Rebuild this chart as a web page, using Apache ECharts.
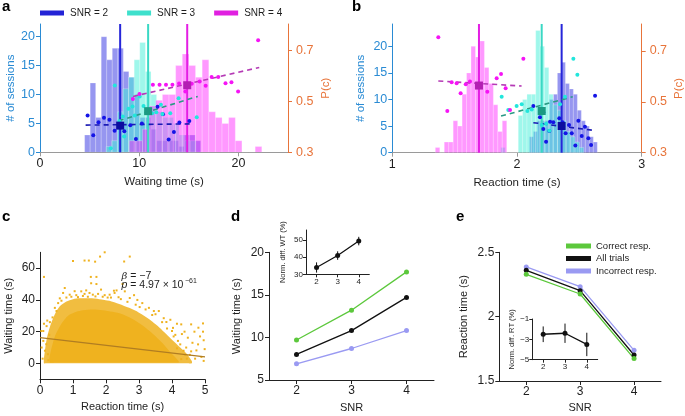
<!DOCTYPE html>
<html><head><meta charset="utf-8">
<script src="https://cdn.jsdelivr.net/npm/echarts@6/dist/echarts.min.js"></script>
<style>html,body{margin:0;padding:0;background:#fff}#c{width:685px;height:416px}</style>
</head><body><div id="c"></div>
<script>
// ================= DATA =================
// Panel a: waiting-time histograms (bin start, bin width, counts)
const aHist2 = {start: 4.5,  width: 0.557, counts: [3,12,6,20,16,18,18,14,13,10,6,6,4,2,2,2,2,1,3,3,2]};
const aHist3 = {start: 6.67, width: 0.565, counts: [1,2,7,11,13,16,19,14,10,7,6,6,5,3,2,2]};
const aHist4 = {start: 9.0,  width: 0.668, counts: [2,2,4,8,9,10,10,15,17,15,13,16,7,6,5,6,2,0,0,1]};
const aMeans = [8.08, 10.9, 14.84];
// Panel a: P(c) per session
const aDots2 = [[4.8,0.445],[5.37,0.367],[5.9,0.418],[6.45,0.436],[7.0,0.428],[7.52,0.385],[8.5,0.383],[9.1,0.406],[9.67,0.352],[10.27,0.413],[11.85,0.479],[12.4,0.45],[12.97,0.35],[13.5,0.38],[14.05,0.417],[15.05,0.423]];
const aDots3 = [[7.54,0.563],[7.14,0.316],[8.0,0.422],[8.48,0.362],[8.35,0.441],[8.92,0.471],[9.33,0.48],[9.55,0.445],[10.05,0.52],[10.44,0.482],[11.3,0.454],[11.72,0.458],[12.19,0.487],[12.34,0.451],[13.13,0.454],[13.97,0.513],[15.8,0.438]];
const aDots4 = [[9.36,0.51],[10.03,0.529],[11.38,0.566],[12.05,0.566],[12.7,0.566],[13.35,0.566],[14.02,0.571],[14.65,0.539],[15.3,0.57],[16.1,0.579],[16.7,0.562],[17.3,0.596],[17.97,0.596],[18.7,0.572],[19.3,0.576],[19.97,0.539],[21.99,0.741]];
const aFit2 = [[4.6,0.407],[15.4,0.412]];
const aFit3 = [[7.93,0.424],[15.9,0.52]];
const aFit4 = [[9.38,0.52],[22.1,0.634]];
const aCenters = [[8.08,0.405],[10.9,0.462],[14.84,0.564]];

// Panel b: reaction-time histograms
const bHist2 = {start: 2.10,  width: 0.032,  counts: [3,4,6,6,6,10,11,15,17,13,12,11,8,6,5,3,2]};
const bHist3 = {start: 1.87,  width: 0.035,  counts: [1,0,0,0,7,10,11,11,23,20,16,11,9,8,6,4,3,2,1]};
const bHist4 = {start: 1.345, width: 0.0358, counts: [1,0,2,2,6,5,11,15,20,18,21,16,13,9,4,6]};
const bMeans = [2.358, 2.198, 1.695];
const bDots2 = [[2.131,0.484],[2.184,0.439],[2.211,0.459],[2.211,0.393],[2.233,0.343],[2.259,0.385],[2.265,0.422],[2.291,0.42],[2.339,0.435],[2.366,0.42],[2.39,0.376],[2.417,0.409],[2.439,0.376],[2.468,0.328],[2.492,0.426],[2.519,0.366],[2.545,0.402],[2.572,0.357],[2.594,0.33],[2.626,0.524]];
const bDots3 = [[1.877,0.52],[1.93,0.468],[1.997,0.484],[2.038,0.49],[2.083,0.464],[2.118,0.47],[2.198,0.409],[2.233,0.414],[2.259,0.386],[2.345,0.49],[2.385,0.52],[2.452,0.669],[2.484,0.606]];
const bDots4 = [[1.369,0.754],[1.441,0.464],[1.476,0.577],[1.516,0.573],[1.548,0.534],[1.589,0.569],[1.623,0.58],[1.762,0.54],[1.837,0.593],[1.872,0.609],[1.909,0.553],[1.944,0.468],[2.051,0.669]];
const bFit2 = [[2.131,0.418],[2.626,0.387]];
const bFit3 = [[1.872,0.444],[2.447,0.52]];
const bFit4 = [[1.369,0.582],[2.037,0.562]];
const bCenters = [[2.358,0.405],[2.198,0.464],[1.695,0.564]];

// Panel c: trial cloud (outline of the dense and speckled zones) + sparse trials + fit
const cMedX   = [0.12,0.2,0.3,0.45,0.6,0.8,1.0,1.2,1.5,1.8,2.1,2.4,2.7,3.0,3.3,3.6,3.9,4.2,4.45,4.6];
const cMedTop = [3,15,23,31,36,39,40.5,41,41,40.5,39.5,37.5,35,32,28,23,17,11,6,1.5];
const cMedBot = [0.1,0.1,0.1,0.1,0.1,0.1,0.1,0.1,0.1,0.1,0.1,0.1,0.1,0.1,0.1,0.1,0.1,0.1,0.1,0.1];
const cDenseX   = [0.3,0.45,0.65,0.85,1.1,1.3,1.6,1.9,2.2,2.5,2.8,3.1,3.4,3.7,3.95,4.2];
const cDenseTop = [5,17,25,30,32.5,33.5,34,33.5,32.5,31,28,24,19,13,7,1.5];
const cDenseBot = [0.6,0.6,0.6,0.6,0.6,0.6,0.6,0.6,0.6,0.6,0.6,0.6,0.6,0.6,0.6,0.6];
const cSparse = [
 [0.12,54.5],[1.0,64.5],[1.35,64.8],[1.48,64.8],[1.67,64.1],[1.82,67.3],[1.96,70],[2.55,64.2],[2.72,67.3],[1.54,54.5],[1.71,54.5],[1.71,50],[1.55,50.5],[2.5,50],[2.32,46],
 [0.75,47.5],[0.7,44.4],[0.9,43.3],[1.1,43],[1.25,45.4],[1.35,43.8],[1.5,44.4],[1.6,43.3],[1.76,43.8],[1.96,43],[2.11,43.3],[2.26,44.4],[2.38,41.7],[2.57,45.4],[2.72,41.2],[2.24,45.8],[0.6,41],[0.8,41.5],[1.05,45.5],[1.4,46],[1.85,46.5],[2.05,41.5],[2.95,40],[3.1,38],[2.85,43],[0.55,38],[0.45,35],[3.3,35],[3.5,31],[3.6,33],
 [0.95,42],[1.15,41.8],[1.3,42.5],[1.45,42],[1.68,42.2],[1.9,42],[2.15,41.5],[2.45,40.5],[2.65,38.8],[2.9,37],[3.2,34],[3.4,30.5],[3.7,26],[3.85,22],[4.05,17],[4.25,12],[4.35,8],[0.65,39.5],[0.5,33],[0.38,29],[3.02,35.5],[3.45,33],[3.75,28.5],[4.0,20.5],[4.15,9.5],[4.45,3],
 [4.38,20],[4.58,24.6],[4.68,20],[4.48,16.2],[4.79,12],[4.94,25.2],[4.94,20],[4.96,14.6],[4.99,9],[4.89,4.1],[4.96,1.6],[4.28,24.6],[4.18,14.2],[4.43,10],[4.58,7.6],[4.74,8.2],[4.28,2.7],[4.54,5.4],[3.83,26.1],[4.03,22.4],[4.1,18],[4.3,18.5],[4.62,13],[4.85,17],[4.7,3],[4.4,5.5],[3.95,27.5],[4.15,25],[4.8,22.5],
 [0.04,20.4],[0.1,14.2],[0.2,23.5],[0.19,12.1],[0.24,5.8],[0.34,1.7],[0.1,20.4],[0.15,8],[0.08,3],[0.28,18],[0.22,27],[0.3,26],[0.05,10],[0.25,2],[0.12,25]
];
const cFit = [[0,16.2],[5,4.1]];

// Panels d, e
const snr = [2,3,4];
const wtCorrect   = [9.7, 13.2, 17.7];
const wtAll       = [8.0, 10.8, 14.7];
const wtIncorrect = [6.9, 8.7, 10.8];
const wtDiff    = [34, 41, 49.5];
const wtDiffErr = [3, 2.5, 2.5];
const rtCorrect   = [2.329, 2.176, 1.674];
const rtAll       = [2.36, 2.202, 1.702];
const rtIncorrect = [2.386, 2.233, 1.738];
const rtDiff    = [-2.5, -2.4, -3.5];
const rtDiffErr = [0.77, 0.95, 1.15];

// ================= STYLE / LAYOUT =================
const FONT = "'Liberation Sans', Arial, Helvetica, sans-serif";
const LBLUE = '#2a8bd4', ORANGE = '#e8743a', AXGRAY = '#9a9a9a', TXT = '#1e1e1e';
const C2 = {bar:'rgba(45,45,225,0.5)',  line:'#2626d9', dot:'#1414e6', sq:'#0c0ca0', dash:'#1a1ab4', leg:'#2323d6'};
const C3 = {bar:'rgba(64,240,215,0.5)', line:'#3ad8c4', dot:'#22e6dc', sq:'#1b9a82', dash:'#2a9a84', leg:'#3ee0cc'};
const C4 = {bar:'rgba(255,30,255,0.46)',line:'#e41ee4', dot:'#f514f5', sq:'#b31fb3', dash:'#b53ab5', leg:'#e020e0'};
const GREEN = '#5cc83c', LAV = '#9a9af2', BLK = '#111111';
const CLOUD = '#efb21f';
const A_LMAX = 22.2, A_RMAX = 0.805, B_LMAX = 24.2, B_RMAX = 0.806;

function ax(gi, min, max, ticks, o) {
  o = o || {};
  const lc = o.line || '#222', tc = o.text || TXT, fs = o.fs || 12;
  return {
    type: 'value', gridIndex: gi, min, max, position: o.position,
    name: o.name || '', nameLocation: 'middle', nameGap: o.gap || 20,
    nameTextStyle: {color: o.nameColor || tc, fontFamily: FONT, fontSize: o.nfs || 11},
    axisLine: {show: true, onZero: false, lineStyle: {color: lc, width: 1}},
    axisTick: {show: true, inside: false, length: o.tl || 4, customValues: ticks, lineStyle: {color: lc}},
    axisLabel: {customValues: ticks, color: tc, fontFamily: FONT, fontSize: fs, margin: o.margin || 5,
      formatter: v => String(v).replace('-', '\u2212')},
    splitLine: {show: false}
  };
}

const grid = [
  {left: 40,    top: 24,    width: 248,   height: 128.3},
  {left: 392.3, top: 24,    width: 249.4, height: 128.7},
  {left: 40,    top: 252.3, width: 165,   height: 127},
  {left: 269,   top: 252.3, width: 165,   height: 127.7},
  {left: 306,   top: 230,   width: 63.3,  height: 44.3},
  {left: 499.3, top: 252.3, width: 161.7, height: 128.7},
  {left: 532.3, top: 319,   width: 65.4,  height: 40.7}
].map(g => Object.assign({outerBoundsMode: 'none', containLabel: false}, g));

const xAxis = [
  ax(0, 0, 25, [0,10,20], {line: AXGRAY, name: 'Waiting time (s)', gap: 24, nfs: 11.5, fs: 12.5}),
  ax(1, 1, 3, [1,2,3], {line: AXGRAY, name: 'Reaction time (s)', gap: 24, nfs: 11.5, fs: 12.5}),
  ax(2, 0, 5, [0,1,2,3,4,5], {name: 'Reaction time (s)', gap: 22, fs: 12}),
  ax(3, 1.5, 4.5, [2,3,4], {name: 'SNR', gap: 22, fs: 12}),
  ax(4, 1.5, 4.5, [2,3,4], {fs: 8, tl: 3, margin: 3}),
  ax(5, 1.5, 4.5, [2,3,4], {name: 'SNR', gap: 21, fs: 12}),
  ax(6, 1.5, 4.5, [2,3,4], {fs: 8, tl: 3, margin: 3})
];
const yAxis = [
  ax(0, 0, A_LMAX, [0,5,10,15,20], {line: LBLUE, text: LBLUE, name: '# of sessions', gap: 16, nfs: 11.5, fs: 12.5}),
  ax(0, 0.3, A_RMAX, [0.3,0.5,0.7], {line: ORANGE, text: ORANGE, position: 'right', name: 'P(c)', gap: 32, nfs: 11.5, fs: 12.5, margin: 8}),
  ax(1, 0, B_LMAX, [0,5,10,15,20], {line: LBLUE, text: LBLUE, name: '# of sessions', gap: 25, nfs: 11.5, fs: 12.5}),
  ax(1, 0.3, B_RMAX, [0.3,0.5,0.7], {line: ORANGE, text: ORANGE, position: 'right', name: 'P(c)', gap: 31, nfs: 11.5, fs: 12.5, margin: 8}),
  ax(2, -10, 70, [0,20,40,60], {name: 'Waiting time (s)', gap: 26, fs: 12}),
  ax(3, 5, 20, [5,10,15,20], {name: 'Waiting time (s)', gap: 27, fs: 12}),
  ax(4, 30, 56, [30,40,50], {name: 'Norm. diff. WT (%)', gap: 19, nfs: 7.5, fs: 8, tl: 3, margin: 3}),
  ax(5, 1.5, 2.5, [1.5,2,2.5], {name: 'Reaction time (s)', gap: 30, fs: 12}),
  ax(6, -5, -1, [-5,-3,-1], {name: 'Norm. diff. RT (%)', gap: 12, nfs: 7.5, fs: 8, tl: 3, margin: 3})
];

const series = [];
function hist(name, h, col, xi, yi) {
  series.push({
    type: 'custom', name, xAxisIndex: xi, yAxisIndex: yi, clip: true, silent: true,
    itemStyle: {color: col.leg},
    data: h.counts.map((c, i) => [h.start + i * h.width, h.start + (i + 1) * h.width, c]),
    encode: {x: [0, 1], y: 2},
    renderItem: (p, api) => {
      const a = api.coord([api.value(0), 0]);
      const b = api.coord([api.value(1), api.value(2)]);
      return {type: 'rect', shape: {x: a[0], y: b[1], width: b[0] - a[0], height: a[1] - b[1]},
        style: {fill: col.bar, stroke: 'rgba(255,255,255,0.35)', lineWidth: 0.7}};
    }
  });
}
function vline(x, top, color, xi, yi) {
  series.push({type: 'line', xAxisIndex: xi, yAxisIndex: yi, data: [[x, 0], [x, top]], showSymbol: false, silent: true,
    lineStyle: {color, width: 2}, z: 3});
}
function dots(d, color, xi, yi, size, symbol) {
  series.push({type: 'scatter', xAxisIndex: xi, yAxisIndex: yi, data: d, symbol: symbol || 'circle', symbolSize: size,
    itemStyle: {color, opacity: 1}, silent: true, z: 5});
}
function dashed(d, color, xi, yi) {
  series.push({type: 'line', xAxisIndex: xi, yAxisIndex: yi, data: d, showSymbol: false, silent: true,
    lineStyle: {color, width: 1.6, type: [5, 4]}, z: 4});
}
function panelAB(hs, means, dotsArr, fits, centers, lmax, xi, yl, yr, withNames) {
  const cols = [C2, C3, C4];
  hs.forEach((h, i) => hist(withNames ? 'SNR = ' + (i + 2) : '', h, cols[i], xi, yl));
  means.forEach((m, i) => vline(m, lmax, cols[i].line, xi, yl));
  fits.forEach((f, i) => dashed(f, cols[i].dash, xi, yr));
  dotsArr.forEach((d, i) => dots(d, cols[i].dot, xi, yr, 4));
  centers.forEach((c, i) => dots([c], cols[i].sq, xi, yr, 8, 'rect'));
}
panelAB([aHist2, aHist3, aHist4], aMeans, [aDots2, aDots3, aDots4], [aFit2, aFit3, aFit4], aCenters, A_LMAX, 0, 0, 1, true);
panelAB([bHist2, bHist3, bHist4], bMeans, [bDots2, bDots3, bDots4], [bFit2, bFit3, bFit4], bCenters, B_LMAX, 1, 2, 3, false);

// Panel c
function poly(xs, top, bot, fill, xi, yi) {
  series.push({type: 'custom', xAxisIndex: xi, yAxisIndex: yi, data: [0], clip: true, silent: true,
    renderItem: (p, api) => {
      const pts = [];
      xs.forEach((x, i) => pts.push(api.coord([x, top[i]])));
      for (let i = xs.length - 1; i >= 0; i--) pts.push(api.coord([xs[i], bot[i]]));
      return {type: 'polygon', shape: {points: pts, smooth: 0.25}, style: {fill}};
    }});
}
poly(cMedX, cMedTop, cMedBot, 'rgba(239,178,31,0.85)', 2, 4);
poly(cDenseX, cDenseTop, cDenseBot, CLOUD, 2, 4);
dots(cSparse, CLOUD, 2, 4, 2, 'rect');
series.push({type: 'line', xAxisIndex: 2, yAxisIndex: 4, data: cFit, showSymbol: false, silent: true,
  lineStyle: {color: '#b07d22', width: 1.2}, z: 6});

// Panels d, e
function lineSer(name, xs, ys, color, xi, yi, size) {
  series.push({type: 'line', name, xAxisIndex: xi, yAxisIndex: yi, data: xs.map((x, i) => [x, ys[i]]),
    symbol: 'circle', symbolSize: size || 5, showSymbol: true, itemStyle: {color}, lineStyle: {color, width: 1.3}, silent: true});
}
function errBars(xs, v, e, color, xi, yi) {
  series.push({type: 'custom', xAxisIndex: xi, yAxisIndex: yi, silent: true,
    data: xs.map((x, i) => [x, v[i] - e[i], v[i] + e[i]]), encode: {x: 0, y: [1, 2]},
    renderItem: (p, api) => {
      const a = api.coord([api.value(0), api.value(1)]);
      const b = api.coord([api.value(0), api.value(2)]);
      return {type: 'line', shape: {x1: a[0], y1: a[1], x2: b[0], y2: b[1]}, style: {stroke: color, lineWidth: 1}};
    }});
}
lineSer('Incorrect resp.', snr, wtIncorrect, LAV, 3, 5);
lineSer('All trials', snr, wtAll, BLK, 3, 5);
lineSer('Correct resp.', snr, wtCorrect, GREEN, 3, 5);
errBars(snr, wtDiff, wtDiffErr, BLK, 4, 6);
lineSer('', snr, wtDiff, BLK, 4, 6, 5);
lineSer('Incorrect resp.', snr, rtIncorrect, LAV, 5, 7);
lineSer('All trials', snr, rtAll, BLK, 5, 7);
lineSer('Correct resp.', snr, rtCorrect, GREEN, 5, 7);
errBars(snr, rtDiff, rtDiffErr, BLK, 6, 8);
lineSer('', snr, rtDiff, BLK, 6, 8, 5);

const lbl = (t, x, y) => ({type: 'text', x, y, style: {text: t, font: 'bold 15px ' + FONT, fill: '#000', verticalAlign: 'middle'}});
const option = {
  animation: false,
  backgroundColor: '#fff',
  textStyle: {fontFamily: FONT},
  grid, xAxis, yAxis, series,
  legend: [
    {left: 40, top: 8, padding: 0, itemWidth: 24, itemHeight: 5, itemGap: 19, icon: 'rect', selectedMode: false,
      textStyle: {fontFamily: FONT, fontSize: 10, color: TXT, padding: [0, 0, 0, 1]},
      data: [{name: 'SNR = 2', itemStyle: {color: C2.leg}}, {name: 'SNR = 3', itemStyle: {color: C3.leg}}, {name: 'SNR = 4', itemStyle: {color: C4.leg}}]},
    {left: 566, top: 241, padding: 0, orient: 'vertical', itemWidth: 25, itemHeight: 5, itemGap: 2.5, icon: 'rect', selectedMode: false,
      textStyle: {fontFamily: FONT, fontSize: 9.5, color: TXT},
      data: [{name: 'Correct resp.', itemStyle: {color: GREEN}}, {name: 'All trials', itemStyle: {color: BLK}}, {name: 'Incorrect resp.', itemStyle: {color: LAV}}]}
  ],
  graphic: [
    lbl('a', 2, 7), lbl('b', 352, 7), lbl('c', 2, 217), lbl('d', 231, 217), lbl('e', 456, 217),
    {type: 'text', x: 121.5, y: 276.5, z: 10, style: {text: '{i|\u03b2} = \u22127', font: '10.5px ' + FONT, fill: TXT, verticalAlign: 'middle',
      rich: {i: {fontStyle: 'italic', fontFamily: 'DejaVu Serif', fontSize: 10}}}},
    {type: 'text', x: 121.5, y: 285.5, z: 10, style: {text: '{i|p} = 4.97 \u00d7 10', font: '10.5px ' + FONT, fill: TXT, verticalAlign: 'middle',
      rich: {i: {fontStyle: 'italic', fontFamily: FONT, fontSize: 10.5}}}},
    {type: 'text', x: 185, y: 281.5, z: 10, style: {text: '\u221261', font: '7px ' + FONT, fill: TXT, verticalAlign: 'middle'}}
  ]
};
const chart = echarts.init(document.getElementById('c'), null, {renderer: 'canvas', width: 685, height: 416});
chart.setOption(option);
</script></body></html>
